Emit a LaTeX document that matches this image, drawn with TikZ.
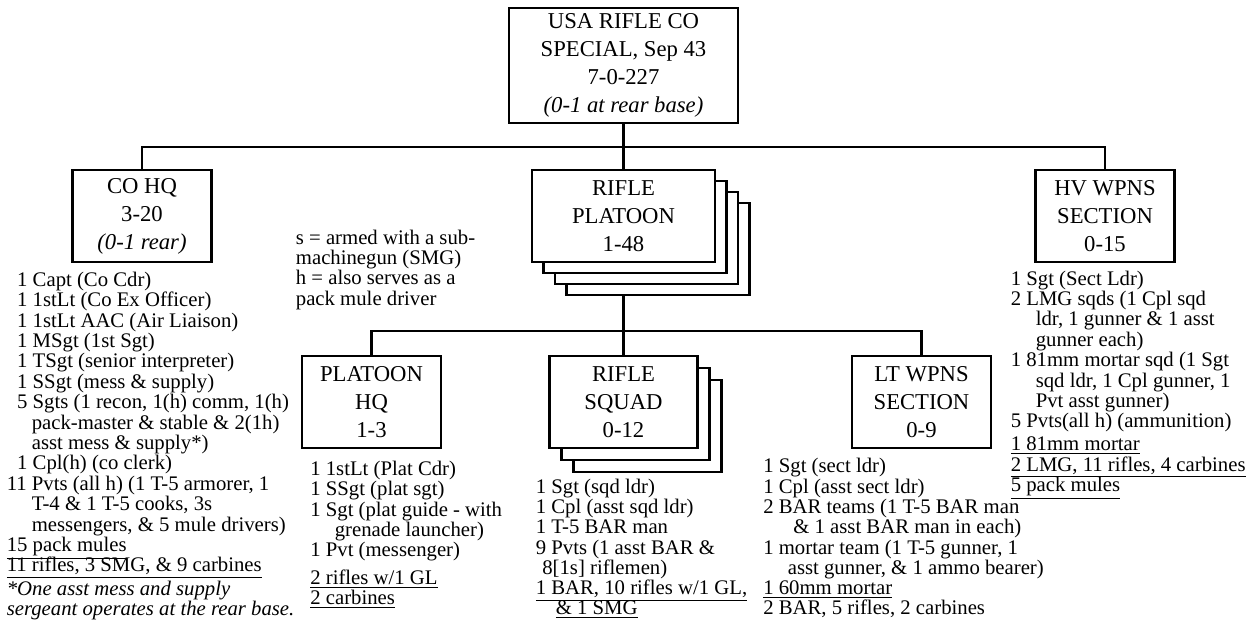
\documentclass[tikz,border=0pt]{standalone}
\usepackage{fontspec}
\setmainfont{Liberation Serif}
\usetikzlibrary{shadows}

\newcommand{\boxfont}{\fontsize{12.9}{15.9}\selectfont}
\newcommand{\listfont}{\fontsize{11.8}{11.4}\selectfont}
\newcommand{\equip}[1]{\smash{\underline{#1}}}

\begin{document}
\begin{tikzpicture}[auto,
    unit/.style={draw, rectangle, fill=white, line width=1.2pt, align=center, font=\boxfont, minimum width=2.78cm, minimum height=1.84cm, inner sep=2pt},
    staff/.style={anchor=base west, inner sep=0pt, font=\listfont},
    link/.style={line width=1.5pt}]
        \useasboundingbox (0,0) rectangle (25,-12.38);
        \node[unit, minimum width=4.58cm, minimum height=2.3cm] (company) at (12.47,-1.31) {USA RIFLE CO\\SPECIAL, Sep 43\\7-0-227\\\textit{(0-1 at rear base)}};
        \node[unit, anchor=north, minimum width=3.66cm,
            copy shadow={shadow xshift=0.69cm, shadow yshift=-0.66cm, line width=1.2pt},
            copy shadow={shadow xshift=0.46cm, shadow yshift=-0.44cm, line width=1.2pt},
            copy shadow={shadow xshift=0.23cm, shadow yshift=-0.22cm, line width=1.2pt}] (platoon) at ([yshift=-0.9cm]company.south) {RIFLE\\PLATOON\\1-48};
        \node[unit, anchor=north] (cohq) at ([xshift=-9.63cm]platoon.north) {CO HQ\\3-20\\\textit{(0-1 rear)}};
        \node[unit, anchor=north] (hvwpns) at ([xshift=9.63cm]platoon.north) {HV WPNS\\SECTION\\0-15};
        \node[unit, anchor=north, minimum width=2.96cm,
            copy shadow={shadow xshift=0.48cm, shadow yshift=-0.48cm, line width=1.2pt},
            copy shadow={shadow xshift=0.24cm, shadow yshift=-0.24cm, line width=1.2pt}] (squad) at ([yshift=-1.84cm]platoon.south) {RIFLE\\SQUAD\\0-12};
        \node[unit, anchor=north] (plathq) at ([xshift=-5.04cm]squad.north) {PLATOON\\HQ\\1-3};
        \node[unit, anchor=north] (ltwpns) at ([xshift=5.96cm]squad.north) {LT WPNS\\SECTION\\0-9};
        % lines between the units
        \coordinate (bus) at ([yshift=-0.46cm]company.south);
        \coordinate (platoonback) at ([yshift=-0.66cm]platoon.south);
        \coordinate (bus2) at ([yshift=-0.7cm]platoonback);
        \draw[link] (company) -- (platoon);
        \draw[link] (cohq.north) |- (bus) -| (hvwpns.north);
        \draw[link] (platoonback) -- (squad.north);
        \draw[link] (plathq.north) |- (bus2) -| (ltwpns.north);
        % personnel lists
        \node[staff] (cohqlist) at ([xshift=-1.3cm, yshift=-0.46cm]cohq.south west) {\begin{tabular}[t]{@{}l@{}}
            \phantom{1}1 Capt (Co Cdr)\\
            \phantom{1}1 1stLt (Co Ex Officer)\\
            \phantom{1}1 1stLt AAC (Air Liaison)\\
            \phantom{1}1 MSgt (1st Sgt)\\
            \phantom{1}1 TSgt (senior interpreter)\\
            \phantom{1}1 SSgt (mess \& supply)\\
            \phantom{1}5 Sgts (1 recon, 1(h) comm, 1(h)\\
            \hspace*{0.5cm}pack-master \& stable \& 2(1h)\\
            \hspace*{0.5cm}asst mess \& supply*)\\
            \phantom{1}1 Cpl(h) (co clerk)\\
            11 Pvts (all h) (1 T-5 armorer, 1\\
            \hspace*{0.5cm}T-4 \& 1 T-5 cooks, 3s\\
            \hspace*{0.5cm}messengers, \& 5 mule drivers)\\
            \equip{15 pack mules}\\
            \equip{11 rifles, 3 SMG, \& 9 carbines}
        \end{tabular}};
        \node[staff, font=\listfont\itshape] (footnote) at ([xshift=-1.3cm, yshift=-6.64cm]cohq.south west) {\begin{tabular}[t]{@{}l@{}}
            *One asst mess and supply\\
            sergeant operates at the rear base.
        \end{tabular}};
        \node[staff] (legend) at ([xshift=1.66cm, yshift=-1.5cm]cohq.north east) {\begin{tabular}[t]{@{}l@{}}
            s = armed with a sub-\\
            machinegun (SMG)\\
            h = also serves as a\\
            pack mule driver
        \end{tabular}};
        \node[staff] (plathqlist) at ([xshift=0.18cm, yshift=-0.52cm]plathq.south west) {\begin{tabular}[t]{@{}l@{}}
            1 1stLt (Plat Cdr)\\
            1 SSgt (plat sgt)\\
            1 Sgt (plat guide - with\\
            \hspace*{0.49cm}grenade launcher)\\
            1 Pvt (messenger)\\[4.5pt]
            \equip{2 rifles w/1 GL}\\
            \equip{2 carbines}
        \end{tabular}};
        \node[staff] (squadlist) at ([xshift=-0.26cm, yshift=-0.88cm]squad.south west) {\begin{tabular}[t]{@{}l@{}}
            1 Sgt (sqd ldr)\\
            1 Cpl (asst sqd ldr)\\
            1 T-5 BAR man\\
            9 Pvts (1 asst BAR \&\\
            \hspace*{0.13cm}8[1s] riflemen)\\
            \equip{1 BAR, 10 rifles w/1 GL,}\\
            \hspace*{0.4cm}\equip{\& 1 SMG}
        \end{tabular}};
        \node[staff] (ltwpnslist) at ([xshift=-1.76cm, yshift=-0.47cm]ltwpns.south west) {\begin{tabular}[t]{@{}l@{}}
            1 Sgt (sect ldr)\\
            1 Cpl (asst sect ldr)\\
            2 BAR teams (1 T-5 BAR man\\
            \hspace*{0.6cm}\& 1 asst BAR man in each)\\
            1 mortar team (1 T-5 gunner, 1\\
            \hspace*{0.49cm}asst gunner, \& 1 ammo bearer)\\
            \equip{1 60mm mortar}\\
            \equip{2 BAR, 5 rifles, 2 carbines}
        \end{tabular}};
        \node[staff] (hvwpnslist) at ([xshift=-0.48cm, yshift=-0.44cm]hvwpns.south west) {\begin{tabular}[t]{@{}l@{}}
            1 Sgt (Sect Ldr)\\
            2 LMG sqds (1 Cpl sqd\\
            \hspace*{0.5cm}ldr, 1 gunner \& 1 asst\\
            \hspace*{0.5cm}gunner each)\\
            1 81mm mortar sqd (1 Sgt\\
            \hspace*{0.5cm}sqd ldr, 1 Cpl gunner, 1\\
            \hspace*{0.5cm}Pvt asst gunner)\\
            5 Pvts(all h) (ammunition)\\[1.7pt]
            \equip{1 81mm mortar}\\
            \equip{2 LMG, 11 rifles, 4 carbines}\\
            \equip{5 pack mules}
        \end{tabular}};
    \end{tikzpicture}
\end{document}
